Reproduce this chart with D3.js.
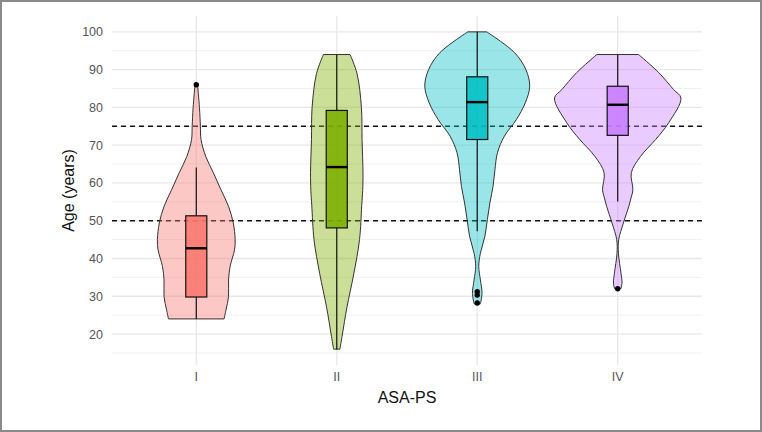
<!DOCTYPE html>
<html>
<head>
<meta charset="utf-8">
<script src="https://cdn.jsdelivr.net/npm/d3@7"></script>
<style>
  body { margin: 0; background: #fff; }
  svg { display: block; font-family: "Liberation Sans", Arial, sans-serif; }
</style>
</head>
<body>
<svg id="chart" width="762" height="432"></svg>
<script>
// groups and colours
var categories = ["I", "II", "III", "IV"];
var colors = ["#F8766D", "#7CAE00", "#00BFC4", "#C77CFF"];

// violin outlines: [age, relative half width]
var violinI = [[86,0.02],[80,0.05],[75,0.065],[71.5,0.075],[67,0.15],[62.7,0.27],[58.2,0.39],[53.8,0.51],[49.4,0.585],[45,0.615],[42.3,0.605],[37.9,0.535],[34.3,0.51],[29.9,0.51],[26.4,0.47],[24,0.44]];
var violinII = [[94,0.21],[89,0.32],[80,0.39],[71.5,0.40],[62.7,0.415],[58,0.41],[54,0.395],[45,0.36],[36,0.27],[27,0.16],[20,0.09],[16,0.05]];
var violinIII = [[100,0.15],[94.5,0.59],[90,0.77],[85.6,0.83],[81.2,0.76],[76.8,0.62],[72.4,0.43],[68,0.32],[63.5,0.28],[59.1,0.25],[54.7,0.2],[50.3,0.16],[45.8,0.12],[41.4,0.05],[37.9,0.024],[34.3,0.05],[30.8,0.076],[28,0.05]];
var violinIV = [[94,0.33],[89.2,0.65],[84.7,0.885],[82.5,1.0],[75.9,0.805],[71.5,0.6],[67,0.36],[62.7,0.215],[58.2,0.24],[56,0.21],[53.8,0.175],[49.4,0.09],[45,0.016],[41.4,0.011],[36.1,0.052],[33.5,0.068],[32,0.05]];
var violins = [violinI, violinII, violinIII, violinIV];

// box plot statistics
var q1 = [29.8, 48.1, 71.5, 72.6];
var medians = [42.7, 64.2, 81.4, 80.7];
var q3 = [51.3, 79.2, 88.1, 85.6];
var whiskerLow = [24, 16, 47.2, 55.1];
var whiskerHigh = [64.1, 94, 100, 94];
var outliers = [[86], [], [31.2, 30.3, 28.2], [32]];

// reference lines and ticks
var refLines = [50, 75];
var yTicks = [20, 30, 40, 50, 60, 70, 80, 90, 100];
var yMinor = [15, 25, 35, 45, 55, 65, 75, 85, 95];

var svg = d3.select("#chart");

// outer frame
svg.append("rect")
    .attr("x", 1).attr("y", 1)
    .attr("width", 760).attr("height", 430)
    .attr("fill", "none")
    .attr("stroke", "#8a8a8a")
    .attr("stroke-width", 2);

var pLeft = 112, pRight = 702, pTop = 16, pBottom = 365;

var x = d3.scalePoint().domain(categories).range([pLeft, pRight]).padding(0.6);
var y = d3.scaleLinear().domain([11.8, 104.2]).range([pBottom, pTop]);
var w = d3.scaleLinear().domain([0, 1]).range([0, 0.45 * x.step()]);
var boxW = 0.15 * x.step();

// grid
svg.append("g").selectAll("line").data(yMinor).enter().append("line")
    .attr("x1", pLeft).attr("x2", pRight)
    .attr("y1", function(d) { return y(d); }).attr("y2", function(d) { return y(d); })
    .attr("stroke", "#f1f1f1").attr("stroke-width", 1);
svg.append("g").selectAll("line").data(yTicks).enter().append("line")
    .attr("x1", pLeft).attr("x2", pRight)
    .attr("y1", function(d) { return y(d); }).attr("y2", function(d) { return y(d); })
    .attr("stroke", "#e8e8e8").attr("stroke-width", 1.3);
svg.append("g").selectAll("line").data(categories).enter().append("line")
    .attr("x1", function(d) { return x(d); }).attr("x2", function(d) { return x(d); })
    .attr("y1", pTop).attr("y2", pBottom)
    .attr("stroke", "#e8e8e8").attr("stroke-width", 1.3);

// dashed reference lines
svg.append("g").selectAll("line").data(refLines).enter().append("line")
    .attr("x1", pLeft).attr("x2", pRight)
    .attr("y1", function(d) { return y(d); }).attr("y2", function(d) { return y(d); })
    .attr("stroke", "#111").attr("stroke-width", 1.4)
    .attr("stroke-dasharray", "5,4");

// violins
categories.forEach(function(c, i) {
    var cx = x(c);
    var area = d3.area()
        .curve(d3.curveCatmullRom.alpha(0.5))
        .y(function(d) { return y(d[0]); })
        .x0(function(d) { return cx - w(d[1]); })
        .x1(function(d) { return cx + w(d[1]); });
    svg.append("path")
        .datum(violins[i])
        .attr("d", area)
        .attr("fill", colors[i])
        .attr("fill-opacity", 0.4)
        .attr("stroke", "#333")
        .attr("stroke-width", 1);
});

// boxes
var boxes = svg.append("g");
categories.forEach(function(c, i) {
    var cx = x(c);
    boxes.append("line")
        .attr("x1", cx).attr("x2", cx)
        .attr("y1", y(whiskerHigh[i])).attr("y2", y(q3[i]))
        .attr("stroke", "#111").attr("stroke-width", 1.2);
    boxes.append("line")
        .attr("x1", cx).attr("x2", cx)
        .attr("y1", y(q1[i])).attr("y2", y(whiskerLow[i]))
        .attr("stroke", "#111").attr("stroke-width", 1.2);
    boxes.append("rect")
        .attr("x", cx - boxW / 2).attr("width", boxW)
        .attr("y", y(q3[i])).attr("height", y(q1[i]) - y(q3[i]))
        .attr("fill", colors[i]).attr("fill-opacity", 0.88)
        .attr("stroke", "#111").attr("stroke-width", 1.2);
    boxes.append("line")
        .attr("x1", cx - boxW / 2).attr("x2", cx + boxW / 2)
        .attr("y1", y(medians[i])).attr("y2", y(medians[i]))
        .attr("stroke", "#000").attr("stroke-width", 2.4);
    boxes.selectAll(null).data(outliers[i]).enter().append("circle")
        .attr("cx", cx).attr("cy", function(d) { return y(d); })
        .attr("r", 2.7).attr("fill", "#000");
});

// axis labels
svg.append("g").selectAll("text").data(yTicks).enter().append("text")
    .attr("x", 103).attr("y", function(d) { return y(d); })
    .attr("dy", "0.36em")
    .attr("text-anchor", "end")
    .attr("font-size", 12.5)
    .attr("fill", "#555")
    .text(function(d) { return d; });

svg.append("g").selectAll("text").data(categories).enter().append("text")
    .attr("x", function(d) { return x(d); }).attr("y", 381)
    .attr("text-anchor", "middle")
    .attr("font-size", 12.5)
    .attr("fill", "#555")
    .text(function(d) { return d; });

svg.append("text")
    .attr("x", (pLeft + pRight) / 2).attr("y", 403)
    .attr("text-anchor", "middle")
    .attr("font-size", 16)
    .attr("fill", "#111")
    .text("ASA-PS");

svg.append("text")
    .attr("transform", "translate(74," + ((pTop + pBottom) / 2) + ") rotate(-90)")
    .attr("text-anchor", "middle")
    .attr("font-size", 16)
    .attr("fill", "#111")
    .text("Age (years)");
</script>
</body>
</html>
